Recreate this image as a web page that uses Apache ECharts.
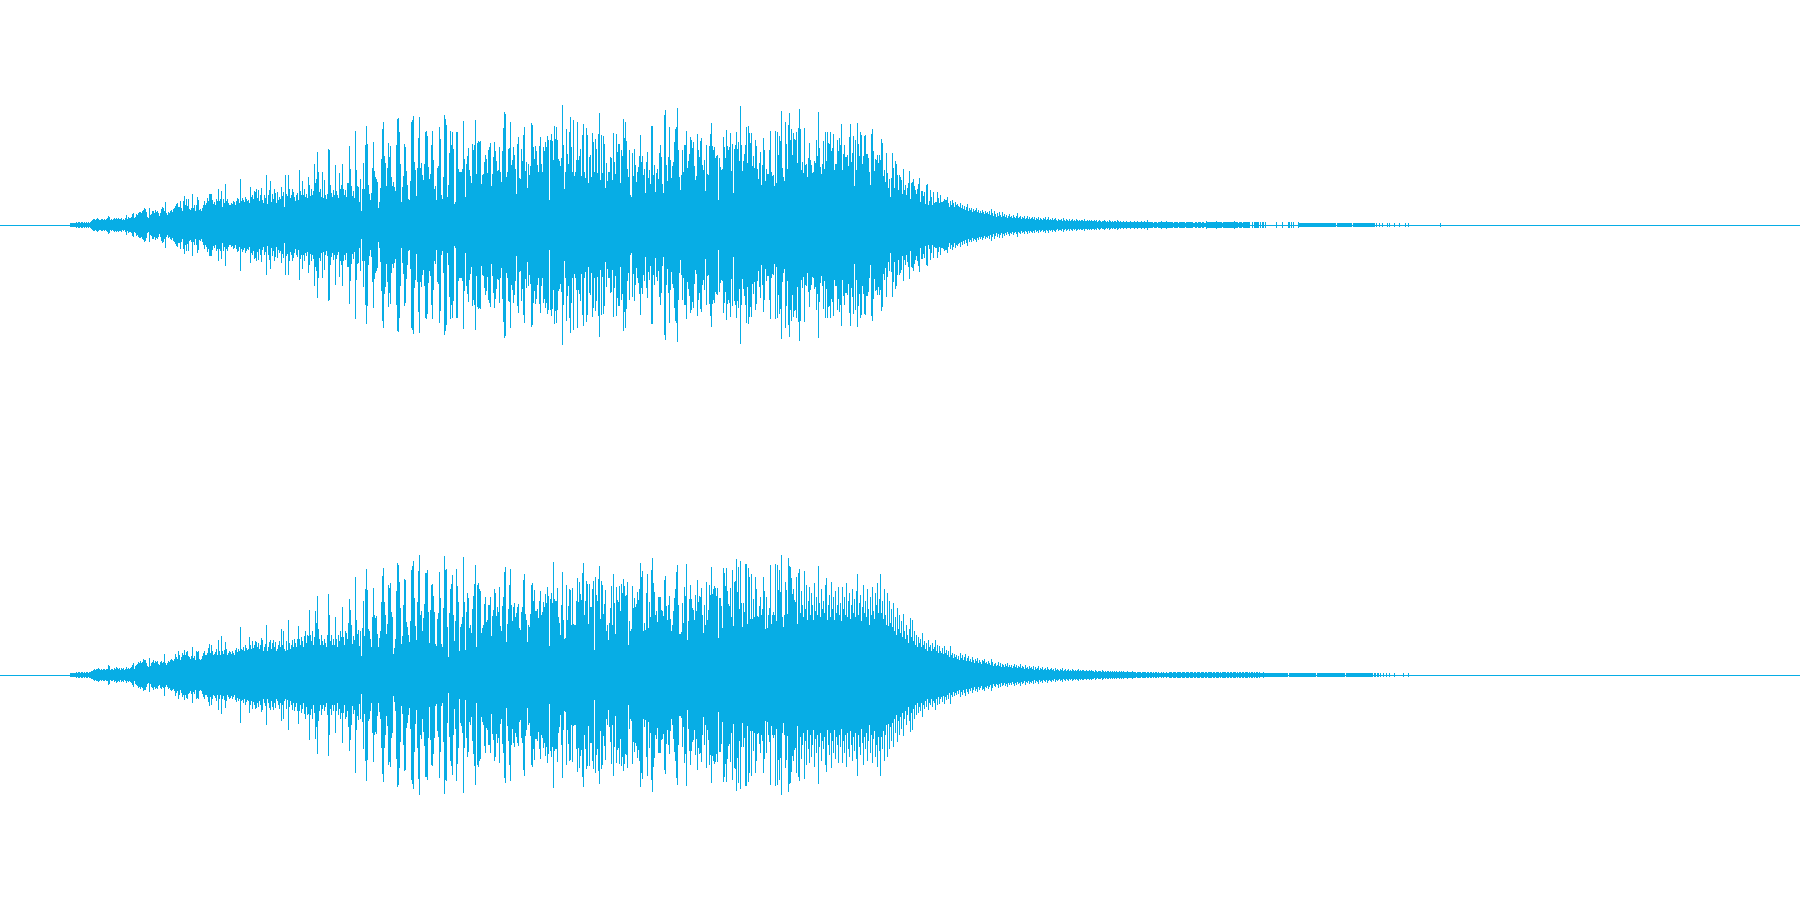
<!DOCTYPE html>
<html><head><meta charset="utf-8">
<style>html,body{margin:0;padding:0;background:#fff}#c{width:1800px;height:900px}</style>
<script src="https://cdn.jsdelivr.net/npm/echarts@6/dist/echarts.min.js"></script>
</head><body><div id="c"></div>
<script>
const waveColor = '#07ADE5';
const firstSample = 70;
const channelTop = [
2,2,2,2,2,2,3,2,3,3, 2,3,3,2,3,2,3,2,3,2, 3,4,5,6,6,5,6,7,6,5, 5,6,6,5,6,5,6,7,9,8,
5,6,5,6,7,6,7,6,7,6, 6,7,5,6,5,7,10,6,8,7, 7,8,11,12,7,8,11,10,12,13, 13,12,14,15,17,16,13,8,7,17,
10,11,14,14,12,15,13,14,12,9, 12,16,18,17,14,23,12,10,13,12, 14,15,13,16,17,19,21,22,18,18, 24,17,14,24,29,20,26,19,26,16,
15,17,31,17,20,14,20,28,25,15, 16,14,17,20,24,20,22,27,24,31, 31,31,25,21,23,20,26,24,36,24, 26,34,18,26,22,41,24,26,22,20,
20,22,21,24,23,20,24,27,26,22, 46,24,27,25,23,28,26,24,25,22, 38,28,30,26,34,33,36,27,35,24, 30,37,25,22,30,27,50,21,30,35,
44,23,31,26,36,32,22,33,25,28, 26,38,29,33,18,50,31,29,50,36, 27,30,36,33,28,24,30,32,25,55, 34,30,44,30,36,28,31,27,48,40,
29,36,30,34,61,42,46,73,53,33, 36,28,53,27,45,30,26,31,76,75, 40,32,28,35,30,60,34,30,27,52, 36,40,61,36,30,35,28,42,42,79,
56,39,29,34,27,94,55,39,38,23,
46,14,36,62,36,80,99,81,40,31,
25,32,57,83,54,48,46,43,17,23,
37,66,96,103,69,62,39,57,82,68,
79,48,39,43,38,34,80,106,107,93,
61,23,38,49,81,78,54,40,26,25,
44,103,105,109,63,55,29,57,87,108,
57,62,50,45,61,93,94,89,58,46,
51,80,94,65,36,39,25,57,59,98,
86,30,26,48,110,106,100,28,40,72,
94,80,93,76,21,23,93,93,56,53,
53,53,56,104,66,28,61,69,77,55,
49,42,81,75,80,105,51,82,84,83,
84,41,50,51,63,70,66,52,75,78,
82,39,51,68,83,74,64,54,55,78,
53,43,74,97,113,111,48,53,76,77,
103,60,65,78,70,56,31,81,88,47,
46,76,64,90,98,54,63,37,61,50,
59,102,100,78,66,79,74,60,53,79,
88,61,53,78,74,83,78,89,85,25,
85,91,84,65,99,86,98,85,66,64,
59,67,120,80,36,53,96,71,61,93,
108,78,53,105,49,53,65,103,65,69,
76,49,90,101,53,47,97,90,42,68,
70,48,92,83,53,86,76,52,91,112,
45,90,52,89,81,37,62,44,53,53,
68,67,45,92,63,51,91,73,81,81,
42,75,69,106,87,103,84,56,48,75,
30,28,72,49,76,60,43,53,58,69,
90,63,69,50,56,32,63,73,47,55,
41,99,99,50,60,33,52,56,46,72,
80,68,41,32,110,115,60,44,68,98,
65,47,59,63,83,96,98,117,75,48,
35,50,75,53,80,80,94,57,64,71,
88,85,77,83,59,45,49,91,75,68,
84,87,60,55,65,34,80,51,50,79,
91,102,79,75,78,67,69,70,25,67,
58,55,56,88,78,67,95,79,75,78,
92,54,81,32,76,80,93,76,83,64,
119,80,54,64,71,80,98,62,99,92,
82,92,59,69,57,85,79,56,46,62,
73,40,60,87,75,44,56,51,51,75,
94,53,49,50,39,94,42,93,70,89,
84,114,57,48,44,103,81,56,100,112,
85,96,70,92,86,85,93,62,97,116,
96,55,63,52,97,60,61,48,67,82,
65,60,52,53,64,62,85,69,113,77,
58,51,61,84,56,93,64,93,82,81,
93,74,77,91,55,61,61,85,74,87,
80,101,55,71,80,68,68,70,59,88,
101,63,72,89,39,85,55,102,81,69,
93,90,61,69,89,90,71,71,67,53,
40,91,96,74,54,66,65,70,62,70,
65,86,82,49,55,43,72,52,37,46,
28,47,72,57,37,64,61,50,35,50,
48,45,31,56,35,40,30,37,42,54,
26,42,43,46,39,35,31,36,41,47,
23,34,34,29,33,21,40,41,20,24,
35,28,20,33,22,23,23,33,27,22,
30,23,23,24,26,25,25,28,22,18,
24,20,25,22,18,23,20,21,19,18,
22,17,20,16,19,15,18,21,14,17,
15,17,13,16,14,15,17,13,15,12,
14,12,15,13,11,14,12,13,11,14,
10,16,12,9,14,11,8,12,9,13,
10,8,13,9,11,8,10,7,9,11,
8,9,7,10,8,7,9,12,7,8,
9,6,8,7,9,6,7,9,6,8,
6,7,8,6,8,5,7,6,8,5,
7,6,5,7,6,8,5,6,8,5,
6,5,7,5,6,7,5,4,6,5,
5,6,4,7,5,4,6,5,4,6,
4,5,6,4,5,4,6,5,4,5,
4,5,5,4,6,4,4,5,4,5,
4,5,4,4,5,4,5,3,4,5,
4,3,4,4,5,4,3,4,3,5,
4,3,4,3,4,4,3,5,4,3,
4,3,3,4,3,3,4,3,3,3,
4,3,3,3,4,3,3,4,3,3,
3,4,3,3,4,3,3,5,3,3,
3,3,3,2,3,3,3,2,3,3,
3,4,3,3,3,3,4,3,3,3,
3,3,3,2,3,3,3,3,2,3,
3,3,3,3,3,2,3,3,3,3,
3,3,3,2,2,3,3,2,3,3,
3,2,3,3,2,2,4,3,3,3,
3,3,3,3,3,3,4,3,3,3,
3,3,2,3,3,3,3,3,3,3,
3,3,3,3,4,3,3,3,2,3,
3,3,2,3,3,3,3,3,3,3,
0,0,3,0,3,3,3,3,3,0,
3,0,3,3,0,3,0,0,0,0,
0,0,0,0,0,0,3,0,0,0,
0,0,3,0,0,0,0,0,3,3,
0,3,0,3,0,0,0,0,3,2,
2,2,2,2,2,2,2,2,2,2,
2,2,2,2,2,2,2,2,2,2,
2,2,2,2,2,2,2,2,2,2,
2,2,2,2,2,2,0,2,2,2,
2,2,2,2,2,2,2,2,2,2,
2,2,0,2,2,2,2,2,2,2,
2,2,2,2,2,2,2,2,2,2,
2,2,2,2,2,0,2,0,0,2,
0,0,2,0,0,0,0,2,0,2,
0,0,0,0,2,0,0,0,0,2,
0,0,0,0,0,2,0,0,2,0,
0,0,0,0,0,0,0,0,0,0,
0,0,0,0,0,0,0,0,0,0,
0,0,0,0,0,0,0,0,0,0,
2
];
const channelBottom = [
2,2,2,2,2,2,3,2,3,3, 2,3,3,2,3,2,3,3,2,3, 3,4,4,5,6,5,6,6,7,6, 5,6,5,6,6,5,6,6,10,9,
5,6,6,5,7,6,8,7,6,7, 5,7,6,7,5,6,8,6,7,6, 7,8,10,12,6,9,10,11,13,12, 14,12,13,16,15,15,12,9,8,17,
9,12,13,15,12,14,13,14,11,10, 13,14,12,13,21,12,10,12,14,13, 15,16,15,14,16,21,18,16,24,20, 15,18,22,20,25,20,23,24,19,18,
16,19,28,17,19,15,24,23,24,16, 15,16,19,22,24,20,20,22,27,31, 22,30,24,20,21,23,26,20,35,24, 20,39,24,21,25,33,26,20,22,24,
23,21,24,22,20,25,27,23,26,24, 48,26,25,28,24,30,27,25,26,38, 30,26,34,27,30,34,33,28,32,26, 30,37,35,24,28,31,50,24,28,33,
35,26,32,35,28,33,24,26,30,34, 28,46,30,44,26,24,34,25,55,32, 26,30,35,28,36,32,28,36,49,36, 30,38,34,28,39,44,32,40,39,65,
40,34,44,30,38,64,52,79,46,36, 30,40,34,30,36,32,28,40,81,60, 34,40,30,36,30,58,36,28,40,34, 44,38,68,38,30,44,42,36,52,76,
65,50,31,39,35,98,55,41,45,29,
44,19,47,74,39,86,106,85,46,44,
36,28,58,87,60,57,59,41,28,37,
44,73,99,107,73,60,41,51,90,87,
92,63,58,21,27,36,84,112,110,93,
67,31,39,70,96,95,53,48,40,33,
54,105,109,114,77,49,35,73,104,120,
60,64,44,57,71,102,102,105,63,32,
65,90,91,79,63,31,29,56,62,103,
77,31,28,67,119,105,106,48,18,62,
86,91,100,60,34,54,106,89,73,24,
48,51,58,118,73,25,63,82,77,47,
50,42,66,79,91,110,28,90,92,86,
84,42,47,50,71,78,53,55,70,70,
78,39,59,65,86,82,59,68,63,88,
49,44,69,78,103,108,33,51,66,90,
106,70,54,68,72,58,62,68,71,47,
45,63,68,95,101,61,55,33,50,48,
61,90,92,74,85,64,64,66,57,74,
84,60,63,73,68,81,72,88,79,29,
76,82,72,113,76,74,74,87,58,52,
40,70,103,55,36,37,90,55,69,86,
85,50,87,51,50,50,74,97,73,93,
81,75,102,112,60,74,94,91,51,91,
68,68,86,94,25,98,80,74,96,109,
56,94,90,61,71,85,44,50,35,52,
67,89,50,101,72,41,88,75,73,89,
64,91,82,96,89,79,80,93,30,54,
44,46,89,67,77,68,71,83,75,86,
112,98,104,44,52,45,82,101,47,73,
58,105,117,92,83,60,64,53,78,78,
78,65,64,59,95,99,69,55,70,79,
56,44,50,64,77,86,103,110,70,41,
41,43,72,52,88,79,111,35,54,76,
90,76,67,65,55,80,64,95,73,79,
78,87,60,42,70,50,93,55,65,90,
80,108,81,86,89,87,79,87,37,77,
77,69,47,107,102,89,107,84,71,69,
87,58,105,49,93,94,116,83,108,66,
114,72,48,72,63,111,111,51,107,98,
56,101,56,76,58,98,86,59,58,69,
78,60,66,98,84,46,78,47,60,67,
110,51,60,63,60,111,54,110,85,105,
83,120,58,48,60,93,85,61,117,109,
108,97,81,86,75,73,98,51,102,106,
62,84,70,58,104,66,90,55,74,88,
60,82,70,55,92,64,78,60,109,72,
58,86,66,74,62,90,97,55,70,80,
58,93,66,78,55,84,62,70,88,60,
72,54,88,66,78,60,92,58,74,82,
56,70,86,62,76,58,84,101,60,72,
80,54,68,90,62,74,58,86,66,50,
78,60,88,64,56,82,70,92,62,76,
101,62,74,56,86,60,50,82,49,74,
52,66,48,72,44,58,40,67,46,60,
42,54,38,61,44,36,50,40,32,46,
57,38,55,34,44,30,40,28,38,32,
36,28,42,30,34,26,32,24,35,28,
30,24,32,26,28,35,24,30,22,29,
24,22,27,21,29,22,25,20,24,18,
29,20,22,17,21,18,20,16,19,15,
22,17,20,15,18,21,14,17,19,14,
16,13,18,15,12,16,14,17,12,15,
13,11,15,14,16,12,13,11,14,12,
10,16,13,9,11,12,9,10,13,9,
12,8,11,10,8,11,9,12,8,10,
8,10,7,9,11,8,10,7,9,8,
11,7,9,8,6,10,7,8,6,9,
7,8,6,9,5,8,6,7,9,5,
7,6,8,5,6,7,5,8,6,5,
6,7,5,6,4,7,5,6,5,4,
6,5,7,4,5,6,4,5,6,4,
5,4,6,5,4,5,4,5,6,4,
5,4,5,5,4,4,5,4,4,5,
4,5,4,4,3,5,4,3,4,4,
4,3,5,4,3,4,3,4,4,3,
4,3,4,3,4,3,4,3,3,4,
3,4,3,4,3,3,3,4,3,3,
3,3,4,3,3,3,2,3,3,3,
3,2,3,3,3,3,2,3,3,2,
3,3,2,3,2,3,3,2,3,2,
2,3,2,3,2,2,3,2,2,3,
3,3,2,3,3,3,2,3,3,3,
3,2,3,3,3,2,3,3,3,2,
3,3,3,2,3,3,2,3,3,3,
2,3,3,3,2,3,3,2,3,3,
3,3,2,3,3,2,3,3,3,2,
3,2,3,3,3,3,2,3,3,2,
3,3,2,3,3,3,2,3,2,3,
3,2,3,3,2,3,3,3,2,3,
2,3,3,2,3,2,3,3,2,3,
2,2,2,3,2,2,2,2,2,2,
2,2,2,2,2,2,2,2,2,2,
2,2,2,2,2,2,2,2,0,2,
2,2,2,2,2,2,2,2,2,2,
2,2,2,2,2,2,2,2,2,2,
2,2,2,2,2,2,0,2,2,2,
2,2,2,2,2,2,2,2,2,2,
2,2,2,2,2,2,2,2,2,2,
2,2,2,2,2,0,2,2,2,2,
2,2,2,2,2,2,2,2,2,2,
2,2,2,2,2,2,2,2,2,2,
2,2,2,0,2,2,0,2,2,0,
2,0,0,2,0,0,2,0,0,2,
0,0,0,0,2,0,0,0,0,0,
0,0,0,2,0,0,0,0,2,0
];
const channels = [channelTop, channelBottom];
const fullScale = 225;

const chart = echarts.init(document.getElementById('c'), null, {renderer: 'canvas'});
const grids = channels.map((_, i) => ({left: 0, right: 0, top: i * 450, height: 450, containLabel: false}));
const xAxes = channels.map((_, i) => ({
  type: 'value', gridIndex: i, min: 0, max: 1800, show: true,
  axisLine: {show: true, onZero: true, lineStyle: {color: waveColor, width: 1}},
  axisTick: {show: false}, axisLabel: {show: false}, splitLine: {show: false}
}));
const yAxes = channels.map((_, i) => ({
  type: 'value', gridIndex: i, min: -fullScale, max: fullScale, show: false, splitLine: {show: false}
}));
const series = channels.map((vals, i) => ({
  type: 'custom', xAxisIndex: i, yAxisIndex: i, silent: true, animation: false,
  data: vals.map((v, k) => [firstSample + k, v]),
  clip: false,
  renderItem: (params, api) => {
    const a = api.coord([api.value(0), api.value(1)]);
    const b = api.coord([api.value(0) + 1, -api.value(1)]);
    return {type: 'rect', shape: {x: a[0], y: a[1], width: b[0] - a[0], height: b[1] - a[1]},
            style: {fill: waveColor, stroke: null}};
  }
}));
chart.setOption({animation: false, backgroundColor: '#fff', grid: grids, xAxis: xAxes, yAxis: yAxes, series});
</script></body></html>
